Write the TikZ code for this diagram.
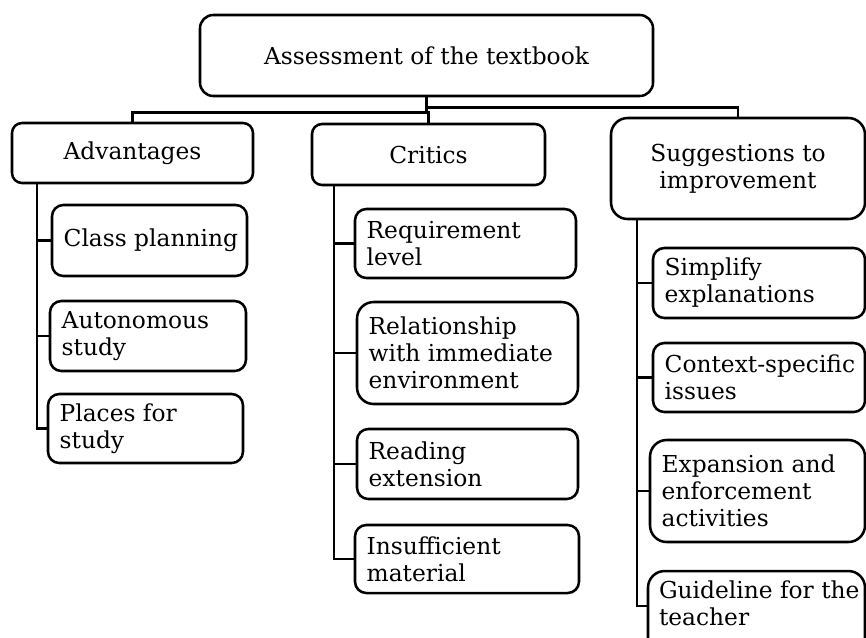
\documentclass[tikz,border=0pt]{standalone}
\usepackage{fontspec}
\setmainfont{DejaVu Serif}
\usetikzlibrary{fit}

% a framed box: optional style, name, corners (x1,y1) (x2,y2)
\newcommand\dgFrame[6][]{%
  \node[frame, #1, fit={(#3,#4)(#5,#6)}] (#2) {};}
% a framed leaf with left-aligned text
\newcommand\dgLeaf[7][]{%
  \dgFrame[#1]{#2}{#3}{#4}{#5}{#6}
  \node[txt, anchor=west] (#2-text) at ([xshift=9.5pt]#2.west) {#7};}

\begin{document}
\begin{tikzpicture}[x=0.75pt, y=-0.75pt,
  frame/.style={draw=black, line width=1.9pt, inner sep=0pt, rounded corners=8.5pt},
  tall/.style={rounded corners=12.5pt},
  txt/.style={font=\fontsize{17.5}{20.25}\selectfont, inner sep=0pt, align=left},
  headtxt/.style={txt, align=center},
  link/.style={draw=black, line width=1.9pt}]

\useasboundingbox (0,0) rectangle (866,637);
\clip (0,0) rectangle (866,637);

% root and the three branches
\dgFrame[rounded corners=10pt]{root}{200}{15}{653}{96}
\node[headtxt] (root-text) at (root.center) {Assessment of the textbook};
\dgFrame[rounded corners=7.5pt]{adv}{12}{123}{253}{183}
\node[headtxt] (adv-text) at (adv.center) {Advantages};
\dgFrame[rounded corners=7.5pt]{crit}{312}{124}{545}{185}
\node[headtxt] (crit-text) at (crit.center) {Critics};
\dgFrame[tall]{sug}{611}{118}{865}{219}
\node[headtxt] (sug-text) at (sug.center) {Suggestions to\\improvement};

% leaves under "Advantages"
\dgLeaf{adv1}{52}{205}{247}{276}{Class planning}
\dgLeaf{adv2}{50}{301}{246}{371}{Autonomous\\study}
\dgLeaf{adv3}{48}{394}{243}{463}{Places for\\study}

% leaves under "Critics"
\dgLeaf{crit1}{355}{209}{576}{278}{Requirement\\level}
\dgLeaf[tall]{crit2}{357}{302}{578}{404}{Relationship\\with immediate\\environment}
\dgLeaf{crit3}{357}{429}{578}{499}{Reading\\extension}
\dgLeaf{crit4}{355}{525}{579}{593}{Insufficient\\material}

% leaves under "Suggestions to improvement"
\dgLeaf{sug1}{653}{248}{865}{318}{Simplify\\explanations}
\dgLeaf{sug2}{653}{343}{865}{412}{Context-specific\\issues}
\dgLeaf[tall]{sug3}{650}{440}{865}{542}{Expansion and\\enforcement\\activities}
\dgFrame[tall]{sug4}{648}{571}{865}{660}
\node[txt, anchor=west] (sug4-text) at ([xshift=9pt]sug4.west |- 0,603) {Guideline for the\\teacher};

% root to branches
\draw[link] (root.south) -- ++(0,10) coordinate (hubA) -| (sug.north);
\draw[link] (hubA) -- ++(0,5) coordinate (hubB) -| (adv.north);
\draw[link] (hubB) -| (crit.north);

% spines with their ticks
\coordinate (advS) at (37,183);
\draw[link] (advS) |- (adv3.west);
\draw[link] (advS |- adv1.west) -- (adv1.west);
\draw[link] (advS |- adv2.west) -- (adv2.west);

\coordinate (critS) at (334,185);
\draw[link] (critS) |- (crit4.west);
\foreach \k in {1,2,3} \draw[link] (critS |- crit\k.west) -- (crit\k.west);

\coordinate (sugS) at (637,219);
\draw[link] (sugS) |- (sug4.west |- 0,606);
\foreach \k in {1,2,3} \draw[link] (sugS |- sug\k.west) -- (sug\k.west);
\end{tikzpicture}
\end{document}
